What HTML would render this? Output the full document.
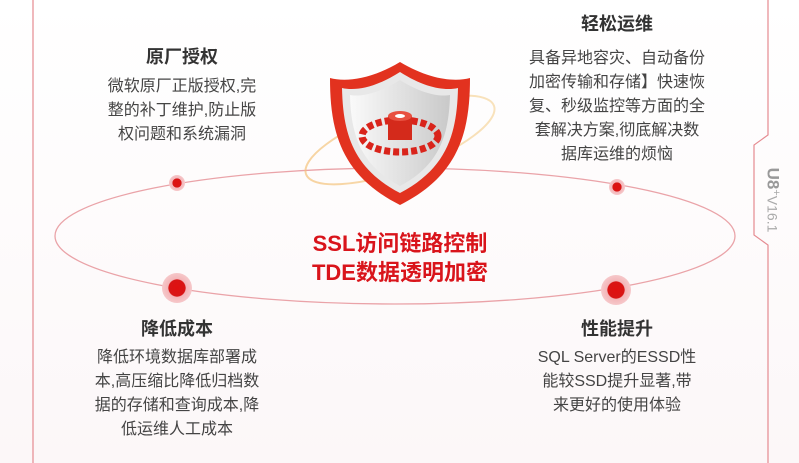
<!DOCTYPE html>
<html><head><meta charset="utf-8"><style>
body{margin:0;width:799px;height:463px;overflow:hidden;background:#fff;font-family:"Liberation Sans","Noto Sans CJK SC",sans-serif;}
.wrap{position:absolute;left:0;top:0;width:799px;height:463px;background:linear-gradient(#fff 0%,#fcf7f8 100%);}
.t{position:absolute;text-align:center;color:#333;}
.h{font-size:18px;font-weight:bold;color:#333;}
.b{font-size:16px;line-height:24px;color:#444;}
.c{position:absolute;left:250px;width:300px;text-align:center;color:#d9141b;font-weight:bold;font-size:22px;line-height:29px;}
</style></head><body><div class="wrap">
<svg width="799" height="463" style="position:absolute;left:0;top:0">
<defs>
<radialGradient id="dot"><stop offset="0" stop-color="#e01010"/><stop offset="0.55" stop-color="#d81515"/><stop offset="0.6" stop-color="#f3b5b8"/><stop offset="1" stop-color="#f6c8ca"/></radialGradient>
<linearGradient id="sh" x1="0" x2="1"><stop offset="0" stop-color="#fafafa"/><stop offset="1" stop-color="#c9c9c9"/></linearGradient>
<linearGradient id="ring" x1="0" x2="1"><stop offset="0" stop-color="#f4c27a"/><stop offset="1" stop-color="#f6d7a0"/></linearGradient>
</defs>
<path d="M33 0 V463 M768 0 V135 L754 145 V235 L768 245 V463" stroke="#e58a90" stroke-width="1.2" fill="none"/>
<ellipse cx="395" cy="236" rx="340" ry="68" fill="none" stroke="#eaa3a8" stroke-width="1.3"/>
<ellipse cx="400" cy="140" rx="100" ry="30" fill="none" stroke="url(#ring)" stroke-width="2" opacity="0.7" transform="rotate(-20 400 140)"/>
<path d="M400 62 C370 80 345 82 330 78 C330 130 340 175 400 205 C460 175 470 130 470 78 C455 82 430 80 400 62Z" fill="#e2321f"/>
<path d="M400 72 C375 88 355 91 342 88 C343 132 352 168 400 193 C448 168 457 132 458 88 C445 91 425 88 400 72Z" fill="#e8e8e8"/>
<path d="M400 80 C378 94 360 97 350 95 C351 134 360 165 400 186 C440 165 449 134 450 95 C440 97 422 94 400 80Z" fill="url(#sh)"/>
<ellipse cx="400" cy="136" rx="38" ry="16" fill="none" stroke="#d9241b" stroke-width="7" stroke-dasharray="6 3"/>
<rect x="388" y="116" width="24" height="24" fill="#d42a1b"/>
<ellipse cx="400" cy="116" rx="12" ry="5" fill="#e85040"/>
<ellipse cx="400" cy="116" rx="5" ry="2" fill="#fff"/>
<circle cx="177" cy="183" r="8" fill="url(#dot)"/>
<circle cx="617" cy="187" r="8" fill="url(#dot)"/>
<circle cx="177" cy="288" r="15" fill="url(#dot)"/>
<circle cx="616" cy="290" r="15" fill="url(#dot)"/>
</svg>
<div class="t h" style="left:82px;width:200px;top:43px">原厂授权</div>
<div class="t b" style="left:82px;width:200px;top:75px">微软原厂正版授权,完<br>整的补丁维护,防止版<br>权问题和系统漏洞</div>
<div class="t h" style="left:517px;width:200px;top:10px">轻松运维</div>
<div class="t b" style="left:517px;width:200px;top:47px">具备异地容灾、自动备份<br>加密传输和存储】快速恢<br>复、秒级监控等方面的全<br>套解决方案,彻底解决数<br>据库运维的烦恼</div>
<div class="t h" style="left:77px;width:200px;top:315px">降低成本</div>
<div class="t b" style="left:77px;width:200px;top:346px">降低环境数据库部署成<br>本,高压缩比降低归档数<br>据的存储和查询成本,降<br>低运维人工成本</div>
<div class="t h" style="left:517px;width:200px;top:315px">性能提升</div>
<div class="t b" style="left:517px;width:200px;top:346px">SQL Server的ESSD性<br>能较SSD提升显著,带<br>来更好的使用体验</div>
<div class="c" style="top:229px">SSL访问链路控制<br>TDE数据透明加密</div>
<div style="position:absolute;left:736px;top:190px;transform:rotate(90deg);transform-origin:center;width:80px;height:20px;line-height:20px;color:#aaa;font-size:14px;white-space:nowrap;text-align:center"><b style="font-size:17px;color:#999">U8</b><sup style="font-size:11px">+</sup>V16.1</div>
</div></body></html>
